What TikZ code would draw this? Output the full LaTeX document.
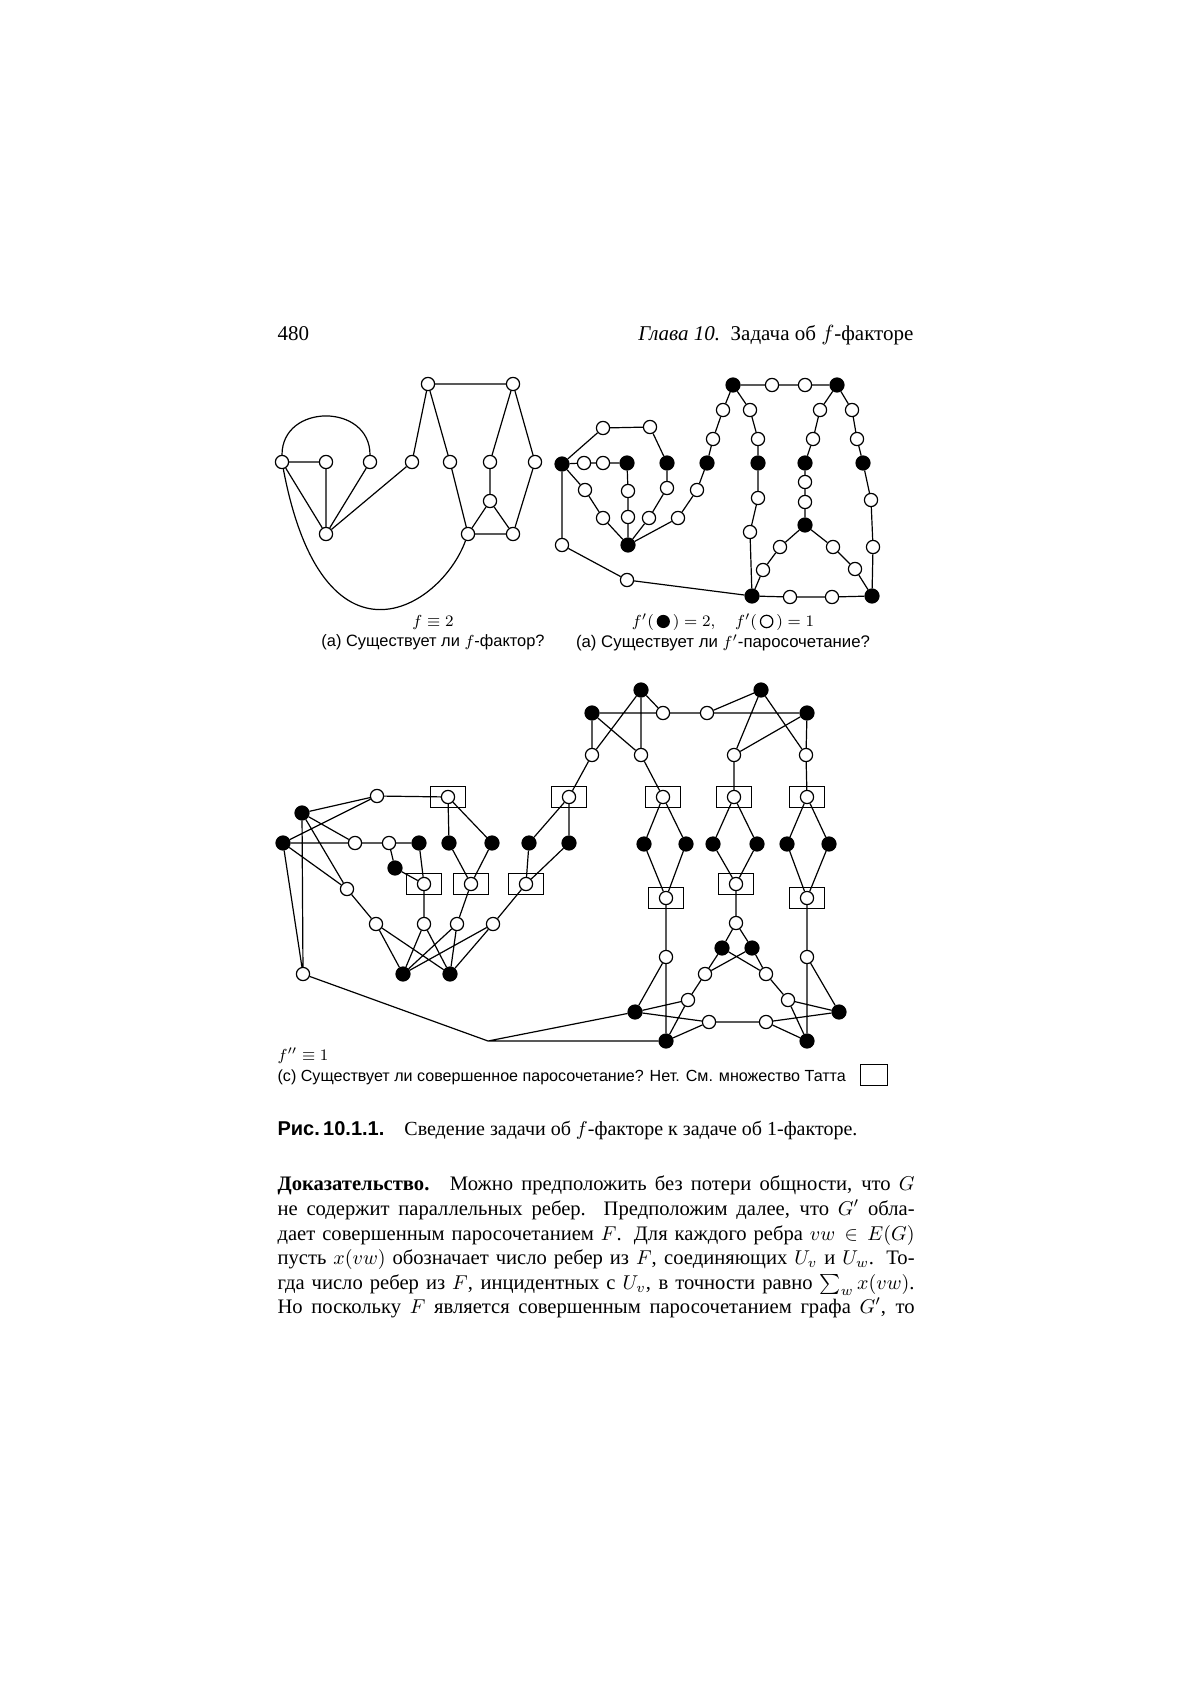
\documentclass[tikz,border=0pt]{standalone}
\usepackage{fontspec}
\setmainfont{Liberation Serif}
\setsansfont{Liberation Sans}
\begin{document}
\begin{tikzpicture}[x=0.5pt,y=-0.5pt,line width=0.6pt,
  opn/.style={circle,draw,fill=white,inner sep=0pt,minimum size=6.6pt},
  blk/.style={circle,draw,fill=black,inner sep=0pt,minimum size=7pt},
  tut/.style={opn,label={[draw,rectangle,minimum width=17.75pt,minimum height=10.5pt,inner sep=0pt,line width=0.6pt]center:}},
  sub/.style={font=\sffamily\fontsize{8.2pt}{9pt}\selectfont,inner sep=0pt},
  body/.style={anchor=base west,inner sep=0pt,font=\fontsize{10.3pt}{12pt}\selectfont}]
\useasboundingbox (0,0) rectangle (1190,1684);

% ---------- header ----------
\node[anchor=base west,inner sep=0pt,font=\fontsize{10.5pt}{12pt}\selectfont] (pg) at (277,341) {480};
\node[anchor=base east,inner sep=0pt,font=\fontsize{10.5pt}{12pt}\selectfont] (hd) at (914,341) {\textit{Глава 10.}\enspace Задача об $f$-факторе};

% ---------- graph (a) ----------
\node[opn] (a1) at (282,462) {};
\node[opn] (a2) at (326,462) {};
\node[opn] (a3) at (370,462) {};
\node[opn] (a4) at (412,462) {};
\node[opn] (a5) at (450,462) {};
\node[opn] (a6) at (490,462) {};
\node[opn] (a7) at (535,462) {};
\node[opn] (at1) at (428,384) {};
\node[opn] (at2) at (513,384) {};
\node[opn] (ab) at (326,534) {};
\node[opn] (att) at (490,501) {};
\node[opn] (abl) at (468,534) {};
\node[opn] (abr) at (513,534) {};
\draw (a1)--(a2) (a2)--(ab) (a1)--(ab) (a3)--(ab) (a4)--(ab)
      (at1)--(at2) (at1)--(a4) (at1)--(a5) (a5)--(abl) (at2)--(a6) (at2)--(a7)
      (a6)--(att) (att)--(abl) (att)--(abr) (abl)--(abr) (a7)--(abr);
\draw (a1) .. controls (282,403) and (370,403) .. (a3);
\draw (a1) .. controls (323,679) and (440,610) .. (abl);
\node[font=\fontsize{8.5pt}{10pt}\selectfont,inner sep=0pt] (fa) at (433,622) {$f\equiv 2$};
\node[sub] (ca) at (433,642) {(а) Существует ли $f$-фактор?};

% ---------- graph (b) ----------
\node[blk] (btl) at (733,385) {};
\node[opn] (bt1) at (772,385) {};
\node[opn] (bt2) at (805,385) {};
\node[blk] (btr) at (837,385) {};
\node[blk] (bL) at (562,464) {};
\node[opn] (b1) at (584,463) {};
\node[opn] (b2) at (603,463) {};
\node[blk] (b3) at (627,463) {};
\node[opn] (bu1) at (603,428) {};
\node[opn] (bu2) at (650,427) {};
\node[blk] (b4) at (667,463) {};
\node[opn] (b5) at (667,488) {};
\node[opn] (b6) at (649,518) {};
\node[blk] (bB) at (628,545) {};
\node[opn] (b7) at (628,491) {};
\node[opn] (b8) at (628,517) {};
\node[opn] (b9) at (585,490) {};
\node[opn] (b10) at (603,518) {};
\node[opn] (b11) at (562,545) {};
\node[opn] (b12) at (627,580) {};
\node[blk] (bBL) at (752,596) {};
\node[opn] (b13) at (678,518) {};
\node[opn] (b14) at (697,490) {};
\node[blk] (b15) at (707,463) {};
\node[opn] (b16) at (713,439) {};
\node[opn] (b17) at (723,410) {};
\node[opn] (b18) at (750,410) {};
\node[opn] (b19) at (758,439) {};
\node[blk] (b20) at (758,463) {};
\node[opn] (b21) at (758,498) {};
\node[opn] (b22) at (750,532) {};
\node[opn] (b23) at (820,410) {};
\node[opn] (b24) at (813,439) {};
\node[blk] (b25) at (805,463) {};
\node[opn] (b26) at (805,482) {};
\node[opn] (b27) at (805,502) {};
\node[blk] (b28) at (805,525) {};
\node[opn] (b29) at (780,547) {};
\node[opn] (b30) at (763,570) {};
\node[opn] (b31) at (833,547) {};
\node[opn] (b32) at (855,569) {};
\node[blk] (bBR) at (872,596) {};
\node[opn] (b33) at (852,410) {};
\node[opn] (b34) at (857,439) {};
\node[blk] (b35) at (863,463) {};
\node[opn] (b36) at (871,500) {};
\node[opn] (b37) at (873,547) {};
\node[opn] (b38) at (790,597) {};
\node[opn] (b39) at (832,597) {};
\draw (btl)--(bt1)--(bt2)--(btr)
      (bL)--(b1)--(b2)--(b3) (bL)--(bu1)--(bu2)--(b4)
      (b4)--(b5)--(b6)--(bB) (b3)--(b7)--(b8)--(bB) (bL)--(b9)--(b10)--(bB)
      (bL)--(b11)--(b12)--(bBL)
      (bB)--(b13)--(b14)--(b15)--(b16)--(b17)--(btl)
      (btl)--(b18)--(b19)--(b20)--(b21)--(b22)--(bBL)
      (btr)--(b23)--(b24)--(b25)--(b26)--(b27)--(b28)--(b29)--(b30)--(bBL)
      (b28)--(b31)--(b32)--(bBR)
      (btr)--(b33)--(b34)--(b35)--(b36)--(b37)--(bBR)
      (bBL)--(b38)--(b39)--(bBR);
\node[font=\fontsize{8.5pt}{10pt}\selectfont,inner sep=0pt] (fb) at (723,622)
  {$f'(\,$\tikz[baseline=-0.6ex]\fill (0,0) circle (3.3pt);$\,)=2,\quad f'(\,$\tikz[baseline=-0.6ex]\draw[line width=0.6pt] (0,0) circle (3.1pt);$\,)=1$};
\node[sub,font=\sffamily\fontsize{8.4pt}{9pt}\selectfont] (cb) at (723,643) {(а) Существует ли $f'$-паросочетание?};

% ---------- graph (c) ----------
\node[blk] (P) at (302,813) {};
\node[blk] (Q) at (283,843) {};
\node[opn] (R) at (377,796) {};
\node[tut] (S) at (448,797) {};
\node[opn] (c1) at (355,843) {};
\node[opn] (c2) at (389,843) {};
\node[blk] (c3) at (419,843) {};
\node[blk] (c4) at (449,843) {};
\node[blk] (c5) at (492,843) {};
\node[blk] (c6) at (395,868) {};
\node[tut] (B1) at (424,884) {};
\node[tut] (B2) at (471,884) {};
\node[tut] (B3) at (526,884) {};
\node[opn] (c7) at (347,889) {};
\node[opn] (d1) at (376,924) {};
\node[opn] (d2) at (424,924) {};
\node[opn] (d3) at (457,924) {};
\node[opn] (d4) at (493,924) {};
\node[blk] (e1) at (403,974) {};
\node[blk] (e2) at (450,974) {};
\node[opn] (f1) at (303,974) {};
\node[tut] (B4) at (569,797) {};
\node[blk] (c8) at (529,843) {};
\node[blk] (c9) at (569,843) {};
\node[blk] (U1) at (641,690) {};
\node[blk] (U2) at (592,713) {};
\node[opn] (m1) at (663,713) {};
\node[opn] (m2) at (707,713) {};
\node[blk] (U3) at (761,690) {};
\node[blk] (U4) at (807,713) {};
\node[opn] (p1) at (592,755) {};
\node[opn] (p2) at (641,755) {};
\node[opn] (p3) at (734,755) {};
\node[opn] (p4) at (806,755) {};
\node[tut] (B5) at (663,797) {};
\node[tut] (B6) at (734,797) {};
\node[tut] (B7) at (807,797) {};
\node[blk] (g1) at (644,844) {};
\node[blk] (g2) at (686,844) {};
\node[blk] (g3) at (713,844) {};
\node[blk] (g4) at (757,844) {};
\node[blk] (g5) at (787,844) {};
\node[blk] (g6) at (829,844) {};
\node[tut] (B8) at (666,898) {};
\node[tut] (B9) at (736,884) {};
\node[tut] (B10) at (807,898) {};
\node[opn] (h1) at (666,957) {};
\node[opn] (h2) at (736,923) {};
\node[opn] (h3) at (807,957) {};
\node[blk] (V1) at (722,948) {};
\node[blk] (V2) at (752,948) {};
\node[opn] (k1) at (705,974) {};
\node[opn] (k2) at (766,974) {};
\node[opn] (k3) at (688,1000) {};
\node[opn] (k4) at (788,1000) {};
\node[blk] (W1) at (635,1012) {};
\node[blk] (W2) at (666,1041) {};
\node[blk] (W3) at (839,1012) {};
\node[blk] (W4) at (807,1041) {};
\node[opn] (n1) at (709,1022) {};
\node[opn] (n2) at (766,1022) {};
\coordinate (J) at (488,1041);
\draw (P)--(R) (P)--(c1) (P)--(c7) (P)--(f1)
      (Q)--(R) (Q)--(c1) (Q)--(c7) (Q)--(f1)
      (R)--(S) (S)--(c4) (S)--(c5)
      (c1)--(c2)--(c3) (c2)--(c6)--(B1) (c3)--(B1)
      (c4)--(B2) (c5)--(B2) (c8)--(B3) (c9)--(B3)
      (B4)--(c8) (B4)--(c9) (p1)--(B4)
      (c7)--(d1) (B1)--(d2) (B2)--(d3) (B3)--(d4)
      (d1)--(e1) (d1)--(e2) (d2)--(e1) (d2)--(e2)
      (d3)--(e1) (d3)--(e2) (d4)--(e1) (d4)--(e2)
      (f1)--(J) (J)--(W1) (J)--(W2);
\draw (U1)--(p1) (U1)--(p2) (U1)--(m1) (U2)--(m1) (U2)--(p1) (U2)--(p2)
      (m1)--(m2) (m2)--(U3) (m2)--(U4)
      (U3)--(p3) (U3)--(p4) (U4)--(p3) (U4)--(p4)
      (p2)--(B5) (p3)--(B6) (p4)--(B7)
      (B5)--(g1) (B5)--(g2) (B6)--(g3) (B6)--(g4) (B7)--(g5) (B7)--(g6)
      (g1)--(B8) (g2)--(B8) (g3)--(B9) (g4)--(B9) (g5)--(B10) (g6)--(B10)
      (B8)--(h1) (B9)--(h2) (B10)--(h3)
      (h2)--(V1) (h2)--(V2) (V1)--(k1) (V1)--(k2) (V2)--(k1) (V2)--(k2)
      (k1)--(k3) (k2)--(k4)
      (h1)--(W1) (h1)--(W2) (h3)--(W3) (h3)--(W4)
      (k3)--(W1) (k3)--(W2) (k4)--(W3) (k4)--(W4)
      (n1)--(W1) (n1)--(W2) (n1)--(n2) (n2)--(W3) (n2)--(W4);

\node[anchor=base west,inner sep=0pt,font=\fontsize{8.5pt}{10pt}\selectfont] (fc) at (277,1060) {$f''\equiv 1$};
\node[anchor=base west,inner sep=0pt,font=\sffamily\fontsize{8.05pt}{9pt}\selectfont] (cc) at (277,1081)
  {(с) Существует ли совершенное паросочетание? Нет. См. множество Татта};
\node[draw,rectangle,minimum width=13.5pt,minimum height=10.5pt,inner sep=0pt] (tb) at (874,1075) {};

% ---------- caption ----------
\node[anchor=base west,inner sep=0pt,font=\fontsize{10pt}{11pt}\selectfont] (fig) at (277,1135)
  {{\sffamily\bfseries Рис.\,10.1.1.}\quad Сведение задачи об $f$-факторе к задаче об 1-факторе.};

% ---------- paragraph ----------
\node[body] (l1) at (277,1190) {\makebox[318.5pt][s]{\textbf{Доказательство.}\quad Можно предположить без потери общности, что $G$}};
\node[body] (l2) at (277,1215) {\makebox[318.5pt][s]{не содержит параллельных ребер. Предположим далее, что $G'$ обла-}};
\node[body] (l3) at (277,1240) {\makebox[318.5pt][s]{дает совершенным паросочетанием $F$. Для каждого ребра $vw\in E(G)$}};
\node[body] (l4) at (277,1264) {\makebox[318.5pt][s]{пусть $x(vw)$ обозначает число ребер из $F$, соединяющих $U_v$ и $U_w$. То-}};
\node[body] (l5) at (277,1289) {\makebox[318.5pt][s]{гда число ребер из $F$, инцидентных с $U_v$, в точности равно $\sum_w x(vw)$.}};
\node[body] (l6) at (277,1313) {\makebox[318.5pt][s]{Но поскольку $F$ является совершенным паросочетанием графа $G'$, то}};
\end{tikzpicture}
\end{document}
